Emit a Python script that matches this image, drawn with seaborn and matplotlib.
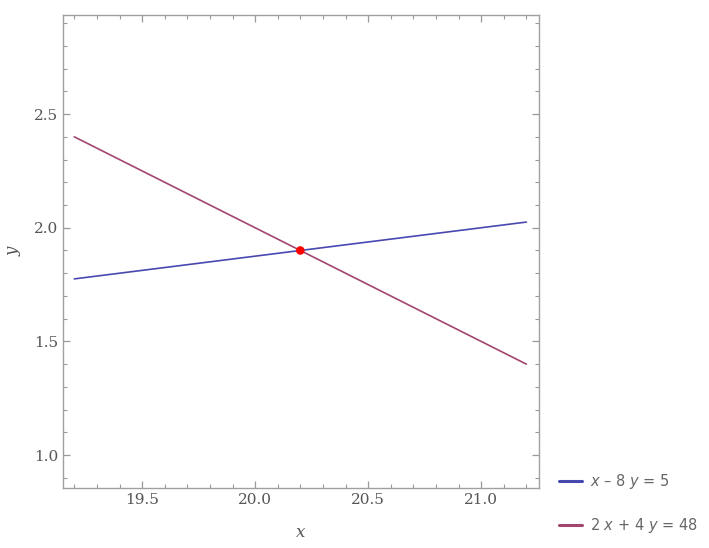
import numpy as np
import pandas as pd
import matplotlib
matplotlib.use("Agg")
import matplotlib.pyplot as plt
import seaborn as sns
from matplotlib.ticker import MultipleLocator

# line endpoints
x_vals = [19.2, 21.2]
y_line1 = [1.775, 2.025]   # x - 8y = 5
y_line2 = [2.4, 1.4]       # 2x + 4y = 48
point_x = [20.2]
point_y = [1.9]

labels = [r"$\it{x}$ – 8 $\it{y}$ = 5", r"2 $\it{x}$ + 4 $\it{y}$ = 48"]
colors = ["#4848b0", "#a2456f"]

sns.set_theme(style="white")
plt.rcParams['font.family'] = ['DejaVu Sans']

df = pd.DataFrame({
    "x": x_vals + x_vals,
    "y": y_line1 + y_line2,
    "eq": [labels[0]] * 2 + [labels[1]] * 2,
})

fig = plt.figure(figsize=(7.09, 5.48), dpi=100)
ax = fig.add_axes([0.0889, 0.1095, 0.6713, 0.8631])

sns.lineplot(data=df, x="x", y="y", hue="eq", palette=colors, ax=ax,
             linewidth=1.2, legend=False)
ax.scatter(point_x, point_y, s=38, color="#ff0000", zorder=5, edgecolor="none")

ax.set_xlim(19.15, 21.256)
ax.set_ylim(0.855, 2.936)

ax.xaxis.set_major_locator(MultipleLocator(0.5))
ax.xaxis.set_minor_locator(MultipleLocator(0.1))
ax.yaxis.set_major_locator(MultipleLocator(0.5))
ax.yaxis.set_minor_locator(MultipleLocator(0.1))
ax.xaxis.set_major_formatter(matplotlib.ticker.FormatStrFormatter("%.1f"))
ax.yaxis.set_major_formatter(matplotlib.ticker.FormatStrFormatter("%.1f"))

ax.tick_params(which="both", direction="in", top=True, right=True,
               color="#999999", labelcolor="#555555", labelsize=11,
               left=True, bottom=True)
ax.tick_params(which="major", length=5, width=0.9)
ax.tick_params(which="minor", length=3, width=0.8)
for lab in ax.get_xticklabels() + ax.get_yticklabels():
    lab.set_family("DejaVu Serif")
for s in ax.spines.values():
    s.set_color("#a0a0a0")
    s.set_linewidth(1.0)

ax.set_xlabel("x", family="DejaVu Serif", style="italic", color="#555555",
              fontsize=12, labelpad=12)
ax.set_ylabel("y", family="DejaVu Serif", style="italic", color="#555555",
              fontsize=12, labelpad=9)

# legend outside on the right
handles = [plt.Line2D([], [], color=c, linewidth=2.2) for c in colors]
leg = fig.legend(handles, labels, loc="lower left",
                 bbox_to_anchor=(0.77, 0.0), frameon=False,
                 fontsize=10.5, handlelength=1.6, handletextpad=0.5,
                 labelspacing=1.7)
for t in leg.get_texts():
    t.set_color("#666666")

fig.savefig("out.png", dpi=100)
